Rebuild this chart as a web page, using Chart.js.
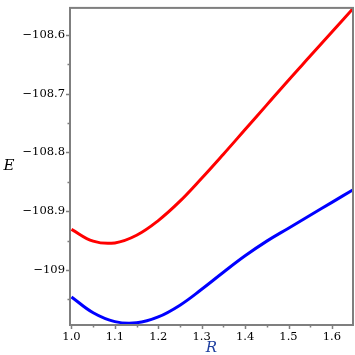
<!DOCTYPE html>
<html>
<head>
<meta charset="utf-8">
<script src="https://cdn.jsdelivr.net/npm/chart.js@4/dist/chart.umd.min.js"></script>
<style>
  html, body { margin: 0; padding: 0; background: #fff; }
  #wrap { width: 355px; height: 355px; }
</style>
</head>
<body>
<div id="wrap"><canvas id="c" width="355" height="355"></canvas></div>
<script>
// ---- data ----
const rValues = [1.00, 1.05, 1.10, 1.15, 1.20, 1.25, 1.30, 1.35, 1.40, 1.45, 1.50, 1.55, 1.60, 1.65];
const upperE  = [-108.931, -108.951, -108.954, -108.941, -108.916, -108.883, -108.844, -108.803, -108.761, -108.719, -108.677, -108.636, -108.595, -108.554];
const lowerE  = [-109.046, -109.073, -109.088, -109.090, -109.080, -109.060, -109.033, -109.004, -108.976, -108.951, -108.929, -108.907, -108.885, -108.863];
const xTickValues = [1.0, 1.05, 1.1, 1.15, 1.2, 1.25, 1.3, 1.35, 1.4, 1.45, 1.5, 1.55, 1.6];
const yTickValues = [-109.05, -109.0, -108.95, -108.9, -108.85, -108.8, -108.75, -108.7, -108.65, -108.6];
const xTitle = 'R';
const yTitle = 'E';

const axisColor = '#7f7f7f';
const tickFont = { family: '"DejaVu Serif"', size: 11.5 };

function isMajor(v) { return Math.abs(v * 10 - Math.round(v * 10)) < 1e-6; }
function fmtY(v) {
  let s = (Math.round(v * 10) / 10).toFixed(1);
  if (s.endsWith('.0')) s = s.slice(0, -2);
  return s.replace('-', '\u2212');
}

const framePlugin = {
  id: 'frame',
  afterDraw(chart) {
    const { ctx, chartArea: a, scales: { x, y } } = chart;
    ctx.save();
    ctx.strokeStyle = axisColor;
    ctx.lineWidth = 1.5;
    ctx.beginPath();
    xTickValues.forEach(v => {
      const px = Math.round(x.getPixelForValue(v)) + 0.5;
      const len = isMajor(v) ? 4 : 2.5;
      ctx.moveTo(px, a.bottom); ctx.lineTo(px, a.bottom + len);
    });
    yTickValues.forEach(v => {
      const py = Math.round(y.getPixelForValue(v)) + 0.5;
      const len = isMajor(v) ? 4 : 2.5;
      ctx.moveTo(a.left, py); ctx.lineTo(a.left - len, py);
    });
    ctx.stroke();
    ctx.lineWidth = 2;
    ctx.strokeRect(a.left, a.top, a.right - a.left, a.bottom - a.top);
    ctx.font = 'italic 15px "DejaVu Serif"';
    ctx.textAlign = 'center';
    ctx.textBaseline = 'middle';
    ctx.fillStyle = '#000';
    ctx.fillText(yTitle, 9, (a.top + a.bottom) / 2);
    ctx.fillStyle = '#1f3f9f';
    ctx.fillText(xTitle, (a.left + a.right) / 2, 348);
    ctx.restore();
  }
};

new Chart(document.getElementById('c'), {
  type: 'line',
  data: {
    datasets: [
      { data: rValues.map((r, i) => ({ x: r, y: upperE[i] })), borderColor: '#ff0000', borderWidth: 3, pointRadius: 0, tension: 0.4, fill: false },
      { data: rValues.map((r, i) => ({ x: r, y: lowerE[i] })), borderColor: '#0000ff', borderWidth: 3, pointRadius: 0, tension: 0.4, fill: false }
    ]
  },
  options: {
    responsive: false,
    animation: false,
    layout: { padding: { top: 5, right: 2, left: 0, bottom: 0 } },
    plugins: { legend: { display: false }, tooltip: { enabled: false } },
    scales: {
      x: {
        type: 'linear', min: 0.9966, max: 1.6486,
        afterBuildTicks: ax => { ax.ticks = xTickValues.map(v => ({ value: v })); },
        afterFit: ax => { ax.height = 30; },
        ticks: { color: '#000', font: tickFont, padding: 1, maxRotation: 0, autoSkip: false,
                 callback: v => isMajor(v) ? v.toFixed(1) : '' },
        grid: { display: true, drawOnChartArea: false, drawTicks: true, tickLength: 4, color: 'rgba(0,0,0,0)' },
        border: { display: false }
      },
      y: {
        type: 'linear', min: -109.0938, max: -108.5539,
        afterBuildTicks: ax => { ax.ticks = yTickValues.map(v => ({ value: v })); },
        afterFit: ax => { ax.width = 70; },
        ticks: { color: '#000', font: tickFont, padding: 1, autoSkip: false,
                 callback: v => isMajor(v) ? fmtY(v) : '' },
        grid: { display: true, drawOnChartArea: false, drawTicks: true, tickLength: 4, color: 'rgba(0,0,0,0)' },
        border: { display: false }
      }
    }
  },
  plugins: [framePlugin]
});
</script>
</body>
</html>
